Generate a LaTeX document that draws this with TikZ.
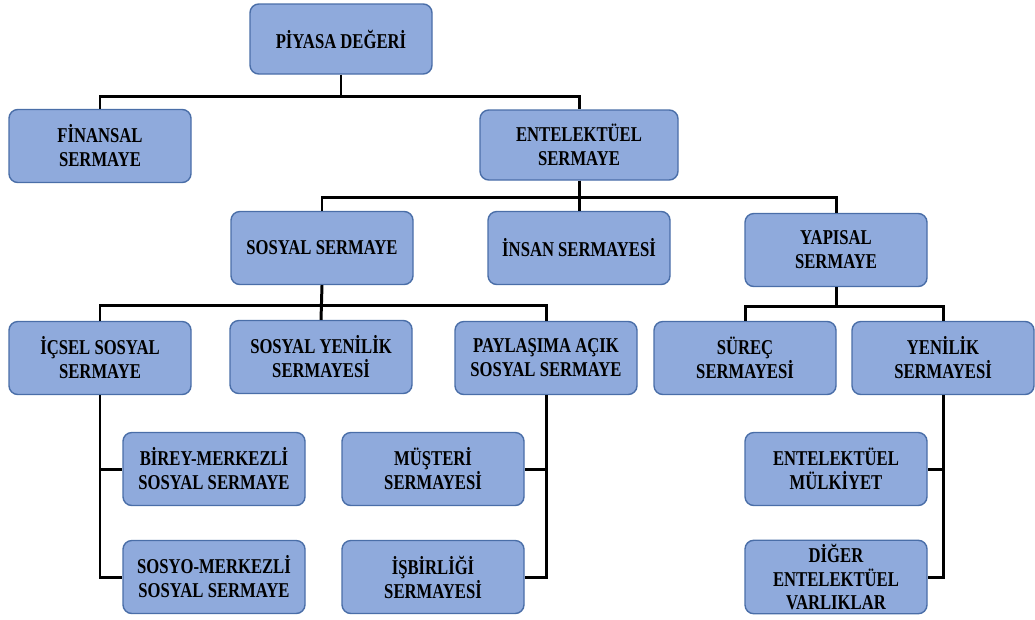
\documentclass[tikz,border=0pt]{standalone}
\usepackage{fontspec}
\setmainfont{Liberation Serif}[FakeStretch=0.79]
\definecolor{boxfill}{HTML}{8FAADC}
\definecolor{boxline}{HTML}{4A6EA8}

\begin{document}
\begin{tikzpicture}
\tikzstyle{every node}+=[draw=boxline, fill=boxfill, rounded corners=5pt, line width=0.8pt,
  minimum width=3.64cm, minimum height=1.46cm, align=center, inner sep=2pt,
  font=\bfseries\fontsize{12}{13.6}\selectfont]
\tikzstyle{link}=[line width=1.7pt, black]

\useasboundingbox (0,0) rectangle (20.7,-12.38);

\node (piyasa)    at (6.82,-0.78)  [minimum height=1.40cm] {PİYASA DEĞERİ};
\node (finansal)  at (2.00,-2.92)  {FİNANSAL\\SERMAYE};
\node (entel)     at (11.58,-2.90) [minimum width=3.96cm, minimum height=1.40cm] {ENTELEKTÜEL\\SERMAYE};
\node (sosyal)    at (6.44,-4.96)  {SOSYAL SERMAYE};
\node (insan)     at (11.58,-4.96) {İNSAN SERMAYESİ};
\node (yapisal)   at (16.72,-5.00) {YAPISAL\\SERMAYE};
\node (icsel)     at (2.00,-7.16)  {İÇSEL SOSYAL\\SERMAYE};
\node (syenilik)  at (6.42,-7.14)  {SOSYAL YENİLİK\\SERMAYESİ};
\node (paylasim)  at (10.92,-7.16) {PAYLAŞIMA AÇIK\\SOSYAL SERMAYE};
\node (surec)     at (14.90,-7.16) {SÜREÇ\\SERMAYESİ};
\node (yenilik)   at (18.86,-7.16) {YENİLİK\\SERMAYESİ};
\node (birey)     at (4.28,-9.38)  {BİREY-MERKEZLİ\\SOSYAL SERMAYE};
\node (sosyo)     at (4.28,-11.54) {SOSYO-MERKEZLİ\\SOSYAL SERMAYE};
\node (musteri)   at (8.66,-9.38)  {MÜŞTERİ\\SERMAYESİ};
\node (isbirligi) at (8.66,-11.54) {İŞBİRLİĞİ\\SERMAYESİ};
\node (mulkiyet)  at (16.72,-9.38) {ENTELEKTÜEL\\MÜLKİYET};
\node (diger)     at (16.72,-11.54) {DİĞER\\ENTELEKTÜEL\\VARLIKLAR};

\draw[link] (piyasa.south) -- ++(0,-0.44) -| (finansal.north);
\draw[link] (piyasa.south) ++(0,-0.44) -| (entel.north);

\draw[link] (entel.south) -- ++(0,-0.34) -| (sosyal.north);
\draw[link] (entel.south) -- (insan.north);
\draw[link] (entel.south) ++(0,-0.34) -| (yapisal.north);

\draw[link] (sosyal.south) -- ++(0,-0.41) -| (icsel.north);
\draw[link] (sosyal.south) -- (syenilik.north);
\draw[link] (sosyal.south) ++(0,-0.41) -| (paylasim.north);

\draw[link] (yapisal.south) -- ++(0,-0.39) -| (surec.north);
\draw[link] (yapisal.south) ++(0,-0.39) -| (yenilik.north);

\draw[link] (icsel.south) |- (birey.west);
\draw[link] (icsel.south) |- (sosyo.west);
\draw[link] (paylasim.south) |- (musteri.east);
\draw[link] (paylasim.south) |- (isbirligi.east);
\draw[link] (yenilik.south) |- (mulkiyet.east);
\draw[link] (yenilik.south) |- (diger.east);
\end{tikzpicture}
\end{document}
